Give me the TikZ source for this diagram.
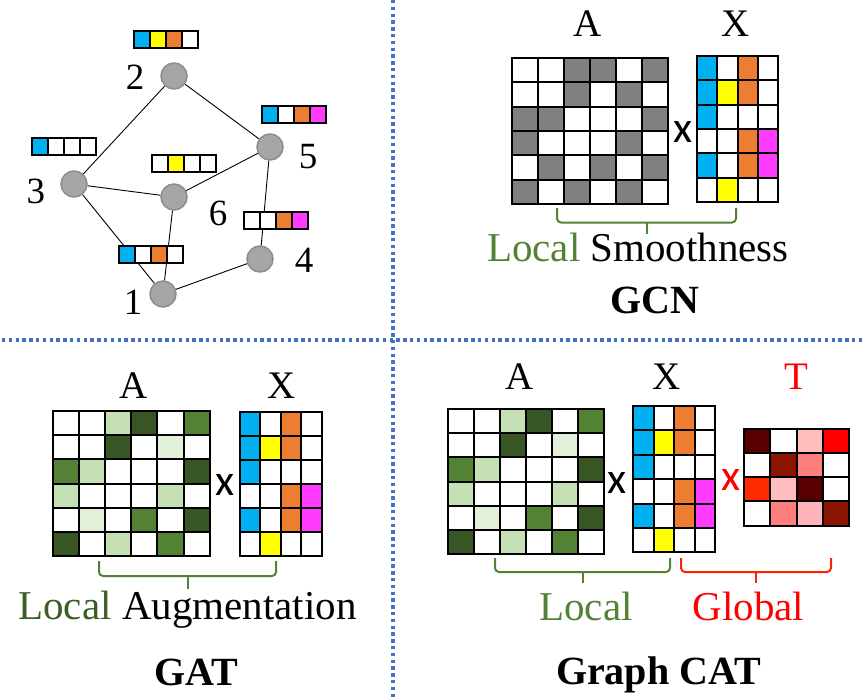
\documentclass[tikz,border=0pt]{standalone}
\usepackage{fontspec}
\setmainfont{Liberation Serif}
\newfontfamily\crossfont{Carlito}
\usepackage{tikz}

% cell colours
\definecolor{cW}{RGB}{255,255,255}
\definecolor{cG}{RGB}{128,128,128}
\definecolor{xB}{RGB}{0,176,240}
\definecolor{xY}{RGB}{255,255,0}
\definecolor{xO}{RGB}{237,125,49}
\definecolor{xP}{RGB}{255,59,255}
\definecolor{gD}{RGB}{55,86,35}
\definecolor{gM}{RGB}{84,130,53}
\definecolor{gL}{RGB}{197,224,180}
\definecolor{gV}{RGB}{226,240,217}
\definecolor{tK}{RGB}{88,0,0}
\definecolor{tD}{RGB}{139,21,0}
\definecolor{tR}{RGB}{255,0,0}
\definecolor{tO}{RGB}{255,42,0}
\definecolor{tS}{RGB}{255,127,127}
\definecolor{tP}{RGB}{255,189,189}
\definecolor{tQ}{RGB}{255,179,186}
\definecolor{nodegray}{RGB}{166,166,166}
\definecolor{nodeedge}{RGB}{140,140,140}
\definecolor{localgreen}{RGB}{84,130,53}
\definecolor{localdark}{RGB}{59,94,39}
\definecolor{globalred}{RGB}{255,34,0}
\definecolor{sepblue}{RGB}{68,114,196}

% #1 left, #2 top, #3 cell width, #4 cell height, #5 rows of colours
\newcommand{\cellgrid}[5]{%
  \foreach \row [count=\i] in {#5} {
    \foreach \c [count=\j] in \row {
      \draw[cellbox, fill=\c] ({#1+(\j-1)*#3},{#2+(\i-1)*#4}) rectangle ++(#3,#4);
    }
  }%
}
% #1 colour, #2 left, #3 right, #4 top, #5 bar, #6 tick end
\newcommand{\groupbrace}[6]{%
  \draw[bracket, #1] (#2,#4) -- (#2,#5) -- (#3,#5) -- (#3,#4);
  \draw[bracket, #1] ({(#2+#3)/2},#5) -- ({(#2+#3)/2},#6);%
}

\begin{document}
\begin{tikzpicture}[x=1pt,y=1pt,yscale=-1,
    cellbox/.style={draw=black, line width=2pt},
    gnode/.style={circle, fill=nodegray, draw=nodeedge, line width=1.5pt, minimum size=26pt, inner sep=0pt},
    gedge/.style={line width=0.9pt},
    bracket/.style={line width=2pt, rounded corners=4pt},
    numlbl/.style={font=\fontsize{37}{40}\selectfont, inner sep=0pt},
    mlbl/.style={font=\fontsize{39}{42}\selectfont, inner sep=0pt, anchor=base},
    txt/.style={font=\fontsize{41}{44}\selectfont, inner sep=0pt, anchor=base},
    title/.style={font=\fontsize{40}{44}\selectfont\bfseries, inner sep=0pt, anchor=base},
    cross/.style={font=\crossfont\fontsize{44}{46}\selectfont, inner sep=0pt},
    sep/.style={sepblue, line width=3.4pt, dash pattern={on 3.4pt off 3.4pt}}]
    \useasboundingbox (0,0) rectangle (862,699);

    %Separators
    \draw[sep] (2,340) -- (862,340);
    \draw[sep] (393,0) -- (393,699);

    %Graph: nodes
    \node[gnode] (n1) at (163,294) {};
    \node[gnode] (n2) at (174,76) {};
    \node[gnode] (n3) at (74,184) {};
    \node[gnode] (n4) at (260,259) {};
    \node[gnode] (n5) at (270,147) {};
    \node[gnode] (n6) at (174,197) {};
    %Graph: edges
    \draw[gedge] (n2) -- (n3);
    \draw[gedge] (n2) -- (n5);
    \draw[gedge] (n3) -- (n6);
    \draw[gedge] (n3) -- (n1);
    \draw[gedge] (n6) -- (n5);
    \draw[gedge] (n6) -- (n1);
    \draw[gedge] (n1) -- (n4);
    \draw[gedge] (n5) -- (n4);
    %Graph: node features
    \cellgrid{119}{246}{16}{17}{{xB,cW,xO,cW}}
    \cellgrid{134}{31}{16}{17}{{xB,xY,xO,cW}}
    \cellgrid{32}{138}{16}{17}{{xB,cW,cW,cW}}
    \cellgrid{244}{212}{16}{17}{{cW,cW,xO,xP}}
    \cellgrid{262}{106}{16}{17}{{xB,cW,xO,xP}}
    \cellgrid{152}{155}{16}{17}{{cW,xY,cW,cW}}
    % Text Node
    \node[numlbl] (l1) at (133,302) {1};
    \node[numlbl] (l2) at (135,77) {2};
    \node[numlbl] (l3) at (36,191) {3};
    \node[numlbl] (l4) at (304,260) {4};
    \node[numlbl] (l5) at (308,157) {5};
    \node[numlbl] (l6) at (218,213) {6};

    %GCN
    \cellgrid{512}{58}{26}{24.3}{{cW,cW,cG,cG,cW,cG},{cW,cW,cG,cW,cG,cW},{cG,cG,cW,cW,cW,cG},{cG,cW,cW,cW,cG,cW},{cW,cG,cW,cG,cW,cG},{cG,cW,cG,cW,cG,cW}}
    \cellgrid{697}{56}{20.25}{24.3}{{xB,cW,xO,cW},{xB,xY,xO,cW},{xB,cW,cW,cW},{cW,cW,xO,xP},{xB,cW,xO,xP},{cW,xY,cW,cW}}
    \node[mlbl] (gcnA) at (588,36) {A};
    \node[mlbl] (gcnX) at (736,36) {X};
    \node[cross] (gcntimes) at (683,132) {x};
    \groupbrace{localgreen}{557}{736}{208}{222.5}{234}
    \node[txt] (gcnlocal) at (638,261) {\textcolor{localgreen}{Local} Smoothness};
    \node[title] (gcntitle) at (655,313) {GCN};

    %GAT
    \cellgrid{53}{411}{26.1}{24.2}{{cW,cW,gL,gD,cW,gM},{cW,cW,gD,cW,gV,cW},{gM,gL,cW,cW,cW,gD},{gL,cW,cW,cW,gL,cW},{cW,gV,cW,gM,cW,gD},{gD,cW,gL,cW,gM,cW}}
    \cellgrid{240}{412}{20.4}{24}{{xB,cW,xO,cW},{xB,xY,xO,cW},{xB,cW,cW,cW},{cW,cW,xO,xP},{xB,cW,xO,xP},{cW,xY,cW,cW}}
    \node[mlbl] (gatA) at (134,398) {A};
    \node[mlbl] (gatX) at (282,398) {X};
    \node[cross] (gattimes) at (225,485) {x};
    \groupbrace{localgreen}{99}{276}{561}{576}{589}
    \node[txt] (gatlocal) at (187.5,619) {\textcolor{localdark}{Local} Augmentation};
    \node[title] (gattitle) at (196.5,685) {GAT};

    %Graph CAT
    \cellgrid{448}{409}{26}{24.2}{{cW,cW,gL,gD,cW,gM},{cW,cW,gD,cW,gV,cW},{gM,gL,cW,cW,cW,gD},{gL,cW,cW,cW,gL,cW},{cW,gV,cW,gM,cW,gD},{gD,cW,gL,cW,gM,cW}}
    \cellgrid{633}{406}{20.5}{24.4}{{xB,cW,xO,cW},{xB,xY,xO,cW},{xB,cW,cW,cW},{cW,cW,xO,xP},{xB,cW,xO,xP},{cW,xY,cW,cW}}
    \cellgrid{744}{428.5}{26.25}{24.3}{{tK,cW,tP,tR},{cW,tD,tS,cW},{tO,tP,tK,cW},{cW,tS,tQ,tD}}
    \node[mlbl] (catA) at (520,389) {A};
    \node[mlbl] (catX) at (667,389) {X};
    \node[mlbl, text=red] (catT) at (796,389) {T};
    \node[cross] (cattimes) at (617,483) {x};
    \node[cross, text=red] (cattimesT) at (731,480) {x};
    \groupbrace{localgreen}{495}{670}{558}{572}{583}
    \groupbrace{globalred}{681}{831}{558}{572}{583}
    \node[txt, text=localgreen] (catlocal) at (586,620) {Local};
    \node[txt, text=red] (catglobal) at (748.5,620) {Global};
    \node[title] (cattitle) at (658.5,684) {Graph CAT};
\end{tikzpicture}
\end{document}
